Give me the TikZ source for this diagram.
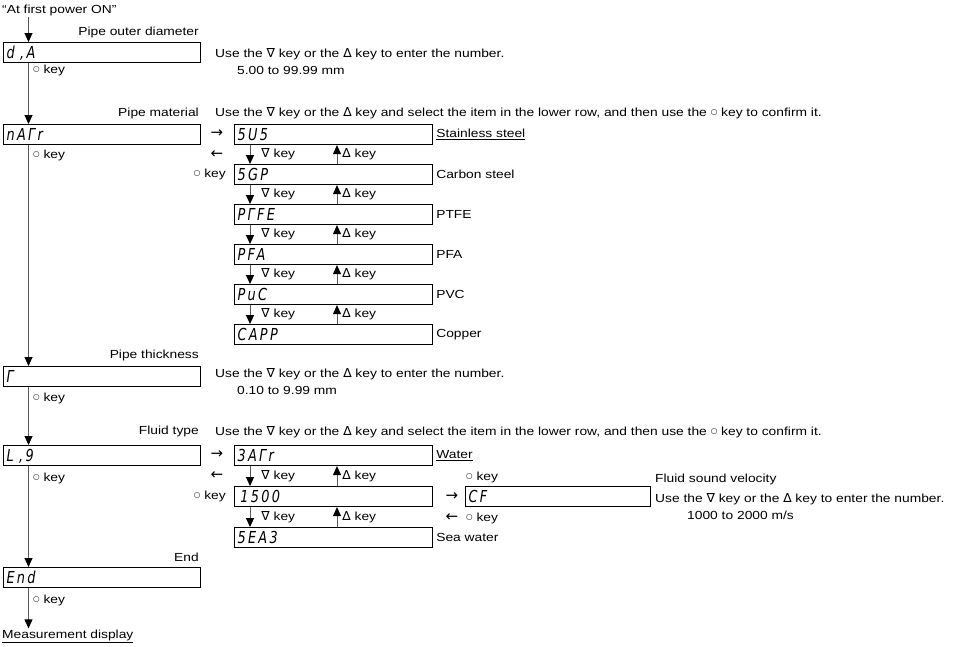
\documentclass[tikz,border=0pt]{standalone}
\usepackage{fontspec}
\setmainfont{Liberation Sans}[FakeStretch=1.18]
\newfontfamily\symf{DejaVu Sans}
\newfontfamily\segf{DejaVu Sans}[FakeStretch=0.78,LetterSpace=14]
\usepackage{tikz}
\usetikzlibrary{arrows.meta,positioning}
\newcommand{\keydn}{{\symf\fontsize{12.5}{13}\selectfont ∇}}
\newcommand{\keyup}{{\symf\fontsize{12.5}{13}\selectfont ∆}}
\newcommand{\keyok}{\raisebox{1.5pt}{\symf\fontsize{7.5}{13}\selectfont ○}}
\newcommand{\ra}{{\symf\fontsize{15}{15}\selectfont →}}
\newcommand{\la}{{\symf\fontsize{15}{15}\selectfont ←}}
\tikzset{
  every node/.style={font=\fontsize{11.7}{13}\selectfont, inner sep=1pt},
  disp/.style={draw, line width=1.1pt, anchor=north west, text width=#1,
    minimum height=20pt, text height=12pt, text depth=0pt, align=left,
    inner xsep=3pt, font=\segf\itshape\fontsize{16.5}{16}\selectfont},
  flow/.style={draw=black!65, line width=0.9pt,
    -{Triangle[width=8pt,length=9pt,color=black]}},
}

\begin{document}
\begin{tikzpicture}[x=1pt,y=-1pt]
  \useasboundingbox (0,0) rectangle (968,646);
  \coordinate (spine) at (28.5,0);
  \coordinate (dnx) at (250,0);
  \coordinate (upx) at (337,0);

  % main column
  \node[anchor=west] (start) at (1,10) {“At first power ON”};
  \node[anchor=east] (dia-title) at (200,32) {Pipe outer diameter};
  \node[disp=191pt] (dia) at (3,42) {d ,A};
  \node[anchor=west] (dia-ok) at (32,70) {\keyok\ key};
  \node[anchor=west] (dia-use) at (214,54) {Use the \keydn\ key or the \keyup\ key to enter the number.};
  \node[anchor=west] (dia-rng) at (236,70) {5.00 to 99.99 mm};

  \node[anchor=east] (matr-title) at (200,113) {Pipe material};
  \node[anchor=west] (matr-use) at (214,113) {Use the \keydn\ key or the \keyup\ key and select the item in the lower row, and then use the \keyok\ key to confirm it.};
  \node[disp=191pt] (matr) at (3,124) {nAΓr};
  \node[anchor=west] (matr-ok) at (32,155) {\keyok\ key};
  \node (matr-ra) at (217,134) {\ra};
  \node (matr-la) at (217,155) {\la};
  \node[anchor=east] (matr-sel) at (227,174) {\keyok\ key};

  \node[anchor=east] (thk-title) at (200,355) {Pipe thickness};
  \node[disp=191pt] (thk) at (3,366) {Γ};
  \node[anchor=west] (thk-ok) at (32,398) {\keyok\ key};
  \node[anchor=west] (thk-use) at (214,374) {Use the \keydn\ key or the \keyup\ key to enter the number.};
  \node[anchor=west] (thk-rng) at (236,390) {0.10 to 9.99 mm};

  \node[anchor=east] (liq-title) at (200,431) {Fluid type};
  \node[anchor=west] (liq-use) at (214,432) {Use the \keydn\ key or the \keyup\ key and select the item in the lower row, and then use the \keyok\ key to confirm it.};
  \node[disp=191pt] (liq) at (3,445) {L ,9};
  \node[anchor=west] (liq-ok) at (32,478) {\keyok\ key};
  \node (liq-ra) at (217,455) {\ra};
  \node (liq-la) at (217,476) {\la};
  \node[anchor=east] (liq-sel) at (227,496) {\keyok\ key};

  \node[anchor=east] (endbox-title) at (200,557) {End};
  \node[disp=191pt] (endbox) at (3,567) {End};
  \node[anchor=west] (endbox-ok) at (32,600) {\keyok\ key};
  \node[anchor=west] (meas) at (1,636) {\underline{Measurement display}};

  \draw[flow] (start.south -| spine) -- (dia.north -| spine);
  \draw[flow] (dia.south -| spine) -- (matr.north -| spine);
  \draw[flow] (matr.south -| spine) -- (thk.north -| spine);
  \draw[flow] (thk.south -| spine) -- (liq.north -| spine);
  \draw[flow] (liq.south -| spine) -- (endbox.north -| spine);
  \draw[flow] (endbox.south -| spine) -- (meas.north -| spine);

  % pipe materials
  \foreach \n/\seg/\lab [count=\i from 0] in {sus/5U5/\underline{Stainless steel},
      sgp/5GP/Carbon steel, ptfe/PΓFE/PTFE, pfa/PFA/PFA, pvc/PuC/PVC, capp/CAPP/Copper} {
    \node[disp=192pt] (\n) at (234,124+40*\i) {\seg};
    \node[right=2pt of \n] (\n-lab) {\lab};
  }
  \foreach \a/\b in {sus/sgp,sgp/ptfe,ptfe/pfa,pfa/pvc,pvc/capp} {
    \draw[flow] (\a.south -| dnx) -- node[anchor=west,xshift=10pt] (\a-dn) {\keydn\ key} (\b.north -| dnx);
    \draw[flow] (\b.north -| upx) -- node[anchor=west,xshift=4pt] (\a-up) {\keyup\ key} (\a.south -| upx);
  }

  % fluids
  \foreach \n/\seg/\lab [count=\i from 0] in {water/3AΓr/\underline{Water},
      w1500/\,1500/{}, sea/5EA3/Sea water} {
    \node[disp=192pt] (\n) at (234,445+41*\i) {\seg};
    \node[right=2pt of \n] (\n-lab) {\lab};
  }
  \foreach \a/\b in {water/w1500,w1500/sea} {
    \draw[flow] (\a.south -| dnx) -- node[anchor=west,xshift=10pt] (\a-dn) {\keydn\ key} (\b.north -| dnx);
    \draw[flow] (\b.north -| upx) -- node[anchor=west,xshift=4pt] (\a-up) {\keyup\ key} (\a.south -| upx);
  }

  % sound velocity
  \node[disp=179pt] (cf) at (465,486) {CF};
  \node[anchor=west] (cf-ok) at (465,477) {\keyok\ key};
  \node (cf-ra) at (452,497) {\ra};
  \node (cf-la) at (452,518) {\la};
  \node[anchor=west] (cf-back) at (465,518) {\keyok\ key};
  \node[anchor=west] (cf-title) at (654,479) {Fluid sound velocity};
  \node[anchor=west] (cf-use) at (654,499) {Use the \keydn\ key or the \keyup\ key to enter the number.};
  \node[anchor=west] (cf-rng) at (686,515) {1000 to 2000 m/s};
\end{tikzpicture}
\end{document}
